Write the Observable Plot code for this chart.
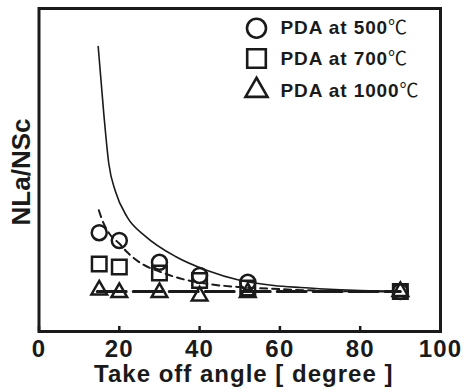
<!DOCTYPE html>
<html><head><meta charset="utf-8">
<script src="https://cdn.jsdelivr.net/npm/d3@7"></script>
<script src="https://cdn.jsdelivr.net/npm/@observablehq/plot@0.6"></script>
<style>
html,body{margin:0;padding:0;background:#fff;}
g[aria-label="x-axis tick label"] text{letter-spacing:1.2px;}
</style>
</head><body>
<div id="chart"></div>
<script>
const xTicks = [0, 20, 40, 60, 80, 100];
const angles = [15, 20, 30, 40, 52, 90];
const pda500 = [2.47, 2.275, 1.73, 1.4, 1.23, 1.0];
const pda700 = [1.69, 1.61, 1.46, 1.275, 1.09, 1.0];
const pda1000 = [1.04, 0.975, 0.975, 0.89, 0.975, 1.0];
const seriesLabels = ["PDA at 500", "PDA at 700", "PDA at 1000"];
const unitLabel = "℃";
const solidX = [14.74, 16.14, 17.38, 19.05, 21.97, 26.53, 34.0, 41.9, 50.2, 58.5, 65.1, 75.1, 85, 90];
const solidY = [7.125, 5.44, 4.2, 3.5, 2.86, 2.38, 1.875, 1.525, 1.275, 1.15, 1.1, 1.045, 1.01, 1.0];
const dashX = [14.9, 15.7, 17.5, 20, 22, 26, 30, 34, 42, 50, 58, 64, 70, 80, 90];
const dashY = [3.03, 2.8, 2.45, 2.2, 1.98, 1.67, 1.5, 1.36, 1.19, 1.11, 1.07, 1.04, 1.02, 1.005, 1.0];
const refX = [14.5, 90];
const refY = [1.0, 1.0];
const xLabel = "Take off angle [ degree ]";
const yLabel = "NLa/NSc";

const ink = "#1a1a1a";
const pts = (ys) => angles.map((x, i) => ({x, y: ys[i]}));
const line = (xs, ys) => xs.map((x, i) => ({x, y: ys[i]}));

const symbols = ["circle", "square", "triangle"];
const plotR = [7.5, 8.2, 5.8];
const legR = [9.5, 10.5, 8.2];
const legDy = [19.7, 50, 82];

const legendMarks = [];
seriesLabels.forEach((lab, i) => {
  legendMarks.push(Plot.dot([lab], {frameAnchor: "top-right", dx: -184, dy: legDy[i], symbol: symbols[i], r: legR[i], stroke: ink, strokeWidth: 2.6, fill: "none"}));
  legendMarks.push(Plot.text([lab], {frameAnchor: "top-right", dx: -160, dy: legDy[i], text: d => d, textAnchor: "start", lineAnchor: "middle", fontSize: 19, fontWeight: "bold", fill: ink, className: "leg"}));
});

const chart = Plot.plot({
  width: 467, height: 392,
  marginLeft: 38.5, marginRight: 27, marginTop: 8, marginBottom: 61,
  style: {fontFamily: "'Liberation Sans', Arial, 'Noto Sans CJK SC', sans-serif", color: ink, background: "#fff"},
  x: {domain: [0, 100], axis: null},
  y: {domain: [0, 8.075], axis: null},
  marks: [
    Plot.line(line(solidX, solidY), {x: "x", y: "y", curve: "monotone-x", stroke: ink, strokeWidth: 1.6}),
    Plot.line(line(dashX, dashY), {x: "x", y: "y", curve: "monotone-x", stroke: ink, strokeWidth: 2, strokeDasharray: "7,5"}),
    Plot.line(line(refX, refY), {x: "x", y: "y", stroke: ink, strokeWidth: 3, strokeDasharray: "29,7"}),
    Plot.dot(pts(pda500), {x: "x", y: "y", symbol: "circle", r: plotR[0], stroke: ink, strokeWidth: 2.5, fill: "none"}),
    Plot.dot(pts(pda700), {x: "x", y: "y", symbol: "square", r: plotR[1], stroke: ink, strokeWidth: 2.5, fill: "none"}),
    Plot.dot(pts(pda1000), {x: "x", y: "y", symbol: "triangle", r: plotR[2], stroke: ink, strokeWidth: 2.5, fill: "none"}),
    ...legendMarks,
    Plot.axisX({ticks: xTicks, text: null, tickSize: 5, dy: -5, strokeWidth: 2.5, stroke: ink, label: null}),
    Plot.axisX({ticks: xTicks, tickSize: 0, tickPadding: 8, fontSize: 24, fontWeight: "bold", fill: ink, label: null}),
    Plot.text([xLabel], {frameAnchor: "bottom", dx: 4, dy: 43, text: d => d, fontSize: 24, fontWeight: "bold", fill: ink, lineAnchor: "middle", className: "xlab"}),
    Plot.text([yLabel], {frameAnchor: "left", dx: -17, dy: 2, rotate: -90, text: d => d, textAnchor: "middle", fontSize: 26, fontWeight: "bold", fill: ink, lineAnchor: "middle"}),
    Plot.frame({stroke: ink, strokeWidth: 3})
  ]
});
document.getElementById("chart").appendChild(chart);
d3.select(chart).selectAll("g.leg text").each(function() {
  d3.select(this).append("tspan").attr("font-weight", "normal").attr("font-family", "'Noto Sans CJK SC', sans-serif").attr("letter-spacing", "0").text(unitLabel);
}).attr("letter-spacing", "0.9px");
d3.select(chart).selectAll("g.xlab text").attr("letter-spacing", "1px");
</script>
</body></html>
